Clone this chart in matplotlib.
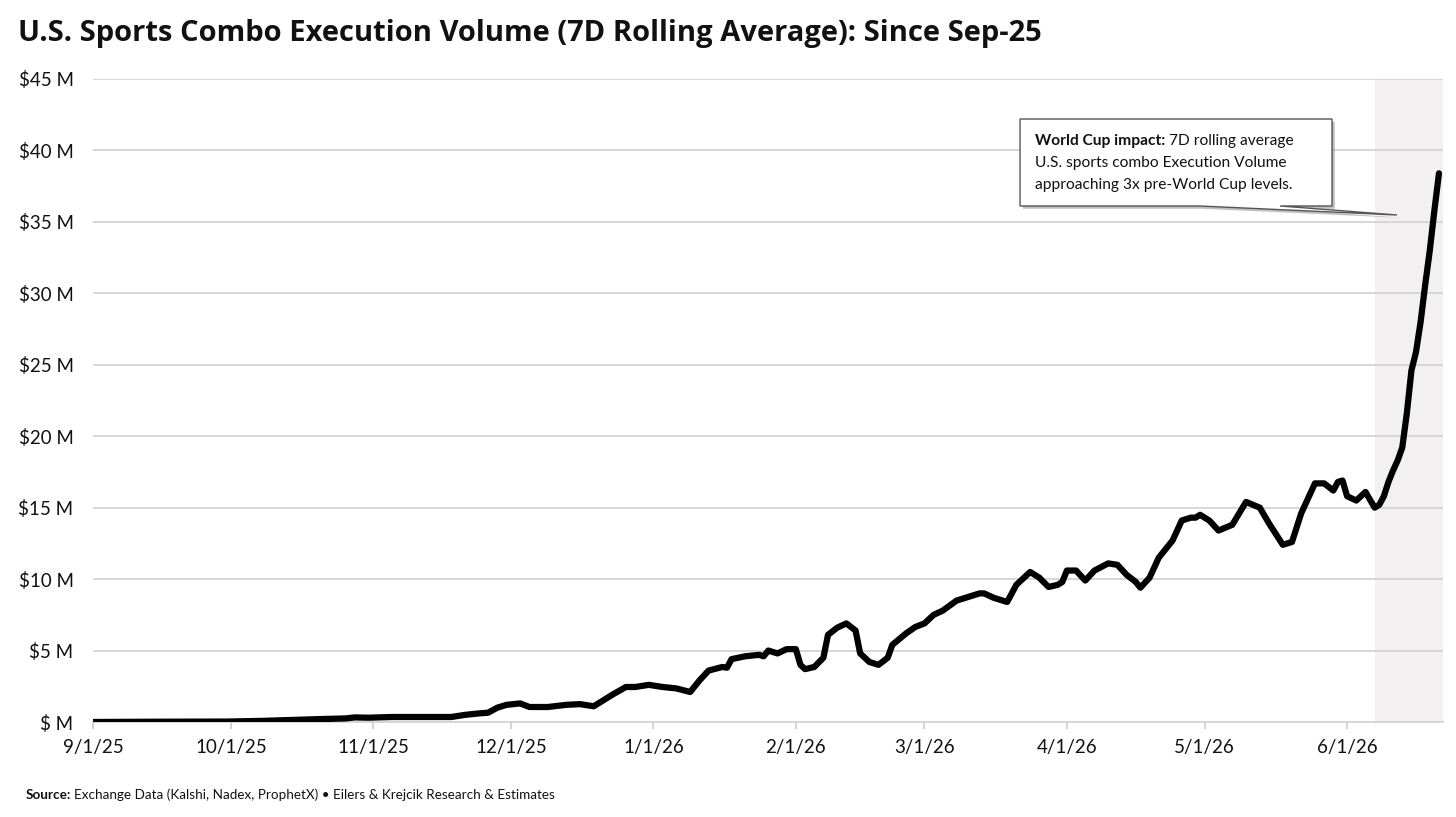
import numpy as np
import pandas as pd
import matplotlib
matplotlib.use("Agg")
import matplotlib.pyplot as plt
import matplotlib.patheffects as pe
from matplotlib.patches import Polygon

plt.rcParams['font.family'] = ['Lato', 'DejaVu Sans']

# 数据 (单位: 百万美元, 7日滚动平均)
dates = [
    "2025-09-01", "2025-09-15", "2025-09-30", "2025-10-08", "2025-10-15", "2025-10-20",
    "2025-10-26", "2025-10-28", "2025-10-31", "2025-11-05", "2025-11-18", "2025-11-21",
    "2025-11-24", "2025-11-26", "2025-11-28", "2025-11-30", "2025-12-03", "2025-12-05",
    "2025-12-09", "2025-12-13", "2025-12-16", "2025-12-19", "2025-12-21", "2025-12-23",
    "2025-12-26", "2025-12-28", "2025-12-31", "2026-01-03", "2026-01-06", "2026-01-09",
    "2026-01-11", "2026-01-13", "2026-01-16", "2026-01-17", "2026-01-18", "2026-01-21",
    "2026-01-24", "2026-01-25", "2026-01-26", "2026-01-28", "2026-01-30", "2026-02-01",
    "2026-02-02", "2026-02-03", "2026-02-05", "2026-02-07", "2026-02-08", "2026-02-10",
    "2026-02-12", "2026-02-14", "2026-02-15", "2026-02-17", "2026-02-19", "2026-02-21",
    "2026-02-22", "2026-02-25", "2026-02-27", "2026-03-01", "2026-03-03", "2026-03-05",
    "2026-03-08", "2026-03-10", "2026-03-13", "2026-03-14", "2026-03-16", "2026-03-19",
    "2026-03-21", "2026-03-24", "2026-03-26", "2026-03-28", "2026-03-30", "2026-03-31",
    "2026-04-01", "2026-04-03", "2026-04-05", "2026-04-07", "2026-04-10", "2026-04-12",
    "2026-04-14", "2026-04-16", "2026-04-17", "2026-04-19", "2026-04-21", "2026-04-24",
    "2026-04-26", "2026-04-28", "2026-04-29", "2026-04-30", "2026-05-02", "2026-05-04",
    "2026-05-07", "2026-05-10", "2026-05-13", "2026-05-15", "2026-05-17", "2026-05-18",
    "2026-05-20", "2026-05-22", "2026-05-25", "2026-05-27", "2026-05-29", "2026-05-30",
    "2026-05-31", "2026-06-01", "2026-06-03", "2026-06-05", "2026-06-07", "2026-06-08",
    "2026-06-09", "2026-06-10", "2026-06-11", "2026-06-12", "2026-06-13", "2026-06-14",
    "2026-06-15", "2026-06-16", "2026-06-17", "2026-06-18", "2026-06-19", "2026-06-20",
    "2026-06-21",
]
volume_m = [
    0.0, 0.02, 0.03, 0.08, 0.15, 0.2,
    0.25, 0.32, 0.3, 0.35, 0.35, 0.5,
    0.6, 0.65, 1.0, 1.2, 1.3, 1.05,
    1.05, 1.2, 1.25, 1.1, 1.5, 1.9,
    2.45, 2.45, 2.6, 2.45, 2.35, 2.1,
    2.9, 3.6, 3.85, 3.8, 4.4, 4.6,
    4.7, 4.6, 5.0, 4.8, 5.1, 5.1,
    4.0, 3.7, 3.85, 4.5, 6.1, 6.6,
    6.9, 6.4, 4.8, 4.2, 4.0, 4.5,
    5.4, 6.2, 6.65, 6.9, 7.5, 7.8,
    8.5, 8.7, 9.0, 9.0, 8.7, 8.4,
    9.6, 10.5, 10.1, 9.45, 9.6, 9.8,
    10.6, 10.6, 9.9, 10.6, 11.1, 11.0,
    10.3, 9.8, 9.4, 10.1, 11.5, 12.7,
    14.1, 14.3, 14.3, 14.5, 14.1, 13.4,
    13.8, 15.4, 15.0, 13.9, 12.9, 12.4,
    12.6, 14.6, 16.7, 16.7, 16.2, 16.8,
    16.9, 15.8, 15.5, 16.1, 15.0, 15.2,
    15.8, 16.8, 17.6, 18.3, 19.2, 21.6,
    24.6, 25.9, 28.0, 30.6, 33.0, 35.8,
    38.4,
]

tick_dates = ["2025-09-01", "2025-10-01", "2025-11-01", "2025-12-01", "2026-01-01",
              "2026-02-01", "2026-03-01", "2026-04-01", "2026-05-01", "2026-06-01"]
tick_labels = ["9/1/25", "10/1/25", "11/1/25", "12/1/25", "1/1/26",
               "2/1/26", "3/1/26", "4/1/26", "5/1/26", "6/1/26"]
y_ticks = [0, 5, 10, 15, 20, 25, 30, 35, 40, 45]
y_labels = ["$ M"] + ["$%d M" % v for v in y_ticks[1:]]

world_cup_start = "2026-06-07"

x = pd.to_datetime(dates)

fig = plt.figure(figsize=(14.56, 8.17), dpi=100)
ax = fig.add_axes([93 / 1456, 95 / 817, 1350 / 1456, 643 / 817])

x_end = pd.Timestamp("2026-06-21 21:00")
ax.axvspan(pd.Timestamp(world_cup_start), x_end, color="#f2f0f1", zorder=0, lw=0)
ax.plot(x, volume_m, color="black", lw=4.5, solid_joinstyle="round",
        solid_capstyle="round", zorder=3)

ax.set_xlim(pd.Timestamp("2025-09-01"), x_end)
ax.set_ylim(0, 45)
ax.set_yticks(y_ticks)
ax.set_yticklabels(y_labels)
ax.set_xticks(pd.to_datetime(tick_dates))
ax.set_xticklabels(tick_labels)
ax.yaxis.grid(True, color="#d4d4d4", lw=1.3)
ax.set_axisbelow(True)
for s in ["top", "right", "left"]:
    ax.spines[s].set_visible(False)
ax.spines["bottom"].set_color("#d4d4d4")
ax.spines["bottom"].set_linewidth(1.3)
ax.tick_params(axis="y", length=0, pad=14, labelsize=13.5, labelcolor="#111111")
ax.tick_params(axis="x", length=5, width=1.2, color="#cccccc", pad=7,
               labelsize=13.5, labelcolor="#111111")

# 标题
fig.text(18 / 1456, 1 - 33 / 817,
         "U.S. Sports Combo Execution Volume (7D Rolling Average): Since Sep-25",
         fontsize=21, fontweight="bold", va="center", ha="left", color="#111111",
         family=["Open Sans", "Lato", "DejaVu Sans"])

# 注释框
callout = Polygon([(0.6867, 0.9378), (0.9178, 0.9378), (0.9178, 0.8025),
                   (0.8793, 0.8025), (0.9659, 0.7885), (0.8200, 0.8025),
                   (0.6867, 0.8025)], closed=True, transform=ax.transAxes,
                  facecolor="white", edgecolor="#555555", lw=1.0, zorder=5,
                  path_effects=[pe.SimplePatchShadow(offset=(2, -2), alpha=0.35),
                                pe.Normal()])
ax.add_patch(callout)

fig.canvas.draw()
renderer = fig.canvas.get_renderer()
tx, ty = 1035 / 1456, 1 - 141 / 817
t1 = fig.text(tx, ty, "World Cup impact:", fontsize=11.2, fontweight="bold",
              va="center", ha="left", color="#111111", zorder=6)
bb = t1.get_window_extent(renderer)
fig.text(bb.x1 / 1456 + 4 / 1456, ty, "7D rolling average", fontsize=11.2,
         va="center", ha="left", color="#111111", zorder=6)
fig.text(tx, 1 - 163 / 817, "U.S. sports combo Execution Volume", fontsize=11.2,
         va="center", ha="left", color="#111111", zorder=6)
fig.text(tx, 1 - 185 / 817, "approaching 3x pre-World Cup levels.", fontsize=11.2,
         va="center", ha="left", color="#111111", zorder=6)

# 来源
s1 = fig.text(26 / 1456, 1 - 795 / 817, "Source:", fontsize=9.7, fontweight="bold",
              va="center", ha="left", color="#111111")
bb = s1.get_window_extent(renderer)
fig.text(bb.x1 / 1456 + 3 / 1456, 1 - 795 / 817,
         "Exchange Data (Kalshi, Nadex, ProphetX) \u2022 Eilers & Krejcik Research & Estimates",
         fontsize=9.7, va="center", ha="left", color="#111111")

fig.savefig("out.png", dpi=100)
